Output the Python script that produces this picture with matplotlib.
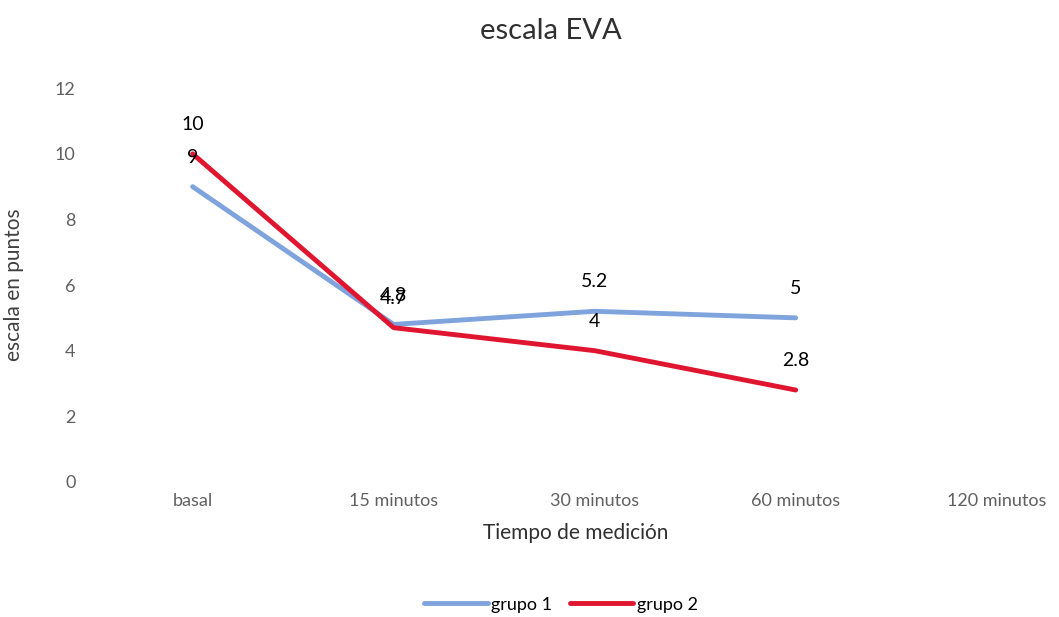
import numpy as np
import matplotlib.pyplot as plt

categorias = ['basal', '15 minutos', '30 minutos', '60 minutos', '120 minutos']
grupo1 = [9, 4.8, 5.2, 5]
grupo2 = [10, 4.7, 4, 2.8]

plt.rcParams['font.family'] = ['Lato', 'DejaVu Sans']

fig = plt.figure(figsize=(10.59, 6.17), dpi=100)
ax = fig.add_axes([0.087, 0.219, 0.913, 0.638])

x = np.arange(len(grupo1))
ax.plot(x, grupo1, color='#7fa3dc', lw=3.5, solid_capstyle='round', label='grupo 1')
ax.plot(x, grupo2, color='#e01530', lw=3.5, solid_capstyle='round', label='grupo 2')

# etiquetas de datos encima de cada punto
for serie in (grupo1, grupo2):
    for xi, v in zip(x, serie):
        ax.annotate(f'{v:g}', (xi, v), xytext=(0, 15), textcoords='offset points',
                    ha='center', va='bottom', fontsize=14, color='black')

ax.set_xlim(-0.5, 4.31)
ax.set_ylim(0, 12)
ax.set_yticks(range(0, 13, 2))
ax.set_xticks(range(len(categorias)))
ax.set_xticklabels(categorias)
ax.tick_params(length=0, labelsize=13, labelcolor='#606060')
ax.tick_params(axis='y', pad=12)
ax.tick_params(axis='x', pad=8)
for s in ax.spines.values():
    s.set_visible(False)

ax.set_xlabel('Tiempo de medición', fontsize=15, color='#303030', labelpad=10)
ax.set_ylabel('escala en puntos', fontsize=15, color='#404040', labelpad=22)
fig.text(0.52, 0.95, 'escala EVA', ha='center', va='center', fontsize=21, color='#303030')

fig.legend(loc='center', bbox_to_anchor=(0.53, 0.02), ncol=2, frameon=False,
           fontsize=13, handlelength=3.5, handletextpad=0.2, columnspacing=1.0)

fig.savefig('out.png', dpi=100)
